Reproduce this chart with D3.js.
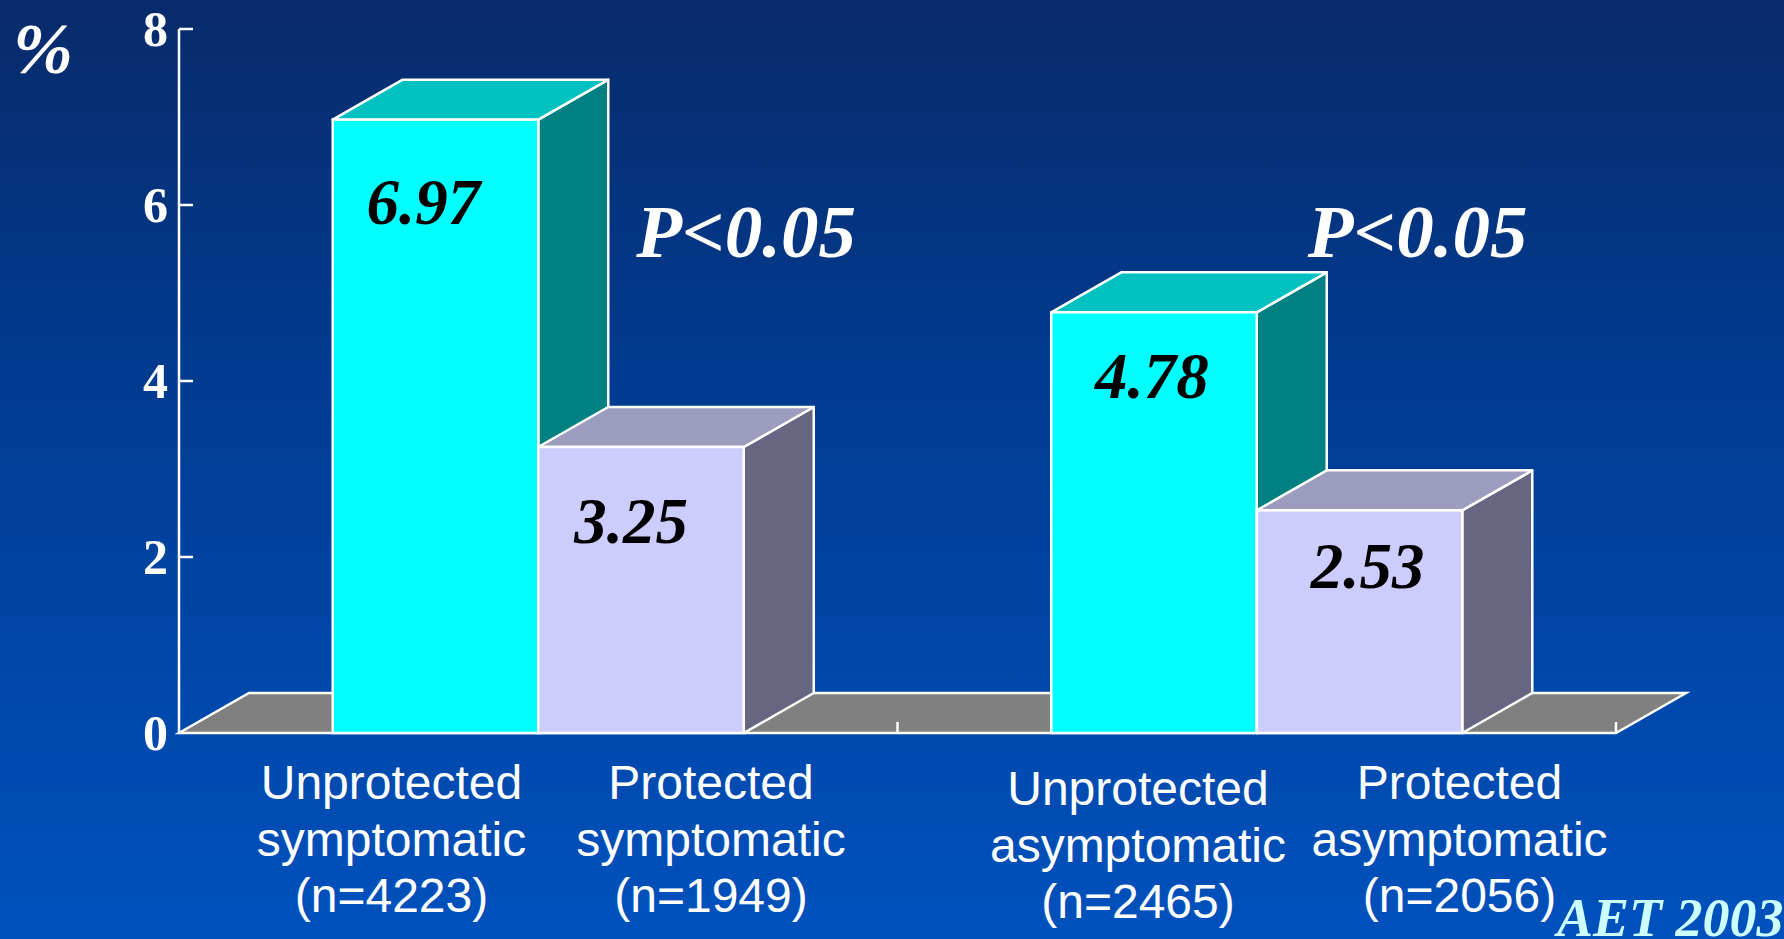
<!DOCTYPE html>
<html>
<head>
<meta charset="utf-8">
<script src="https://cdn.jsdelivr.net/npm/d3@7"></script>
<style>
  html, body { margin: 0; padding: 0; overflow: hidden; }
  svg { display: block; }
</style>
</head>
<body>
<svg id="chart" width="1784" height="939"></svg>
<script>
// Event rates (%) by protection status and symptom group
const groups = ["symptomatic", "asymptomatic"];
const protection = ["Unprotected", "Protected"];
const symptomaticValues = [6.97, 3.25];
const asymptomaticValues = [4.78, 2.53];
const sampleSizes = [4223, 1949, 2465, 2056];
const pValueLabels = ["P<0.05", "P<0.05"];
const yTicks = [0, 2, 4, 6, 8];

const W = 1784, H = 939;
const svg = d3.select("#chart");

// background gradient
const defs = svg.append("defs");
const grad = defs.append("linearGradient")
  .attr("id", "bg").attr("x1", 0).attr("y1", 0).attr("x2", 0).attr("y2", 1);
grad.append("stop").attr("offset", "0%").attr("stop-color", "#082b6b");
grad.append("stop").attr("offset", "50%").attr("stop-color", "#003f99");
grad.append("stop").attr("offset", "100%").attr("stop-color", "#0051bd");
svg.append("rect").attr("width", W).attr("height", H).attr("fill", "url(#bg)");

// rows: one per bar
const rows = [];
groups.forEach((g, gi) => {
  const vals = gi === 0 ? symptomaticValues : asymptomaticValues;
  protection.forEach((p, pi) => {
    rows.push({ group: g, prot: p, value: vals[pi], n: sampleSizes[gi * 2 + pi] });
  });
});

// scales
const y = d3.scaleLinear().domain([0, 8]).range([733, 29]);
const x0 = d3.scaleBand().domain(groups).range([179, 1616]).padding(0);
const x1 = d3.scaleBand().domain(protection).range([0, x0.bandwidth()])
  .paddingInner(0).paddingOuter(0.748);

// oblique depth of the 3D projection
const dx = 70, dy = -40;
const y0 = y(0);

const faceColors = {
  Unprotected: { front: "#00ffff", top: "#00c0c0", side: "#008080" },
  Protected:   { front: "#ccccff", top: "#9c9cbf", side: "#666682" }
};

// floor
const xStart = x0.range()[0], xEnd = x0.range()[1];
svg.append("polygon")
  .attr("points", [[xStart, y0], [xEnd, y0], [xEnd + dx, y0 + dy], [xStart + dx, y0 + dy]].join(" "))
  .attr("fill", "#808080").attr("stroke", "#ffffff").attr("stroke-width", 2.5)
  .attr("stroke-linejoin", "miter");

// group boundary ticks on the floor edge
svg.selectAll("line.xtick")
  .data(groups)
  .enter().append("line")
  .attr("class", "xtick")
  .attr("x1", d => x0(d) + x0.bandwidth()).attr("x2", d => x0(d) + x0.bandwidth())
  .attr("y1", y0).attr("y2", y0 - 11)
  .attr("stroke", "#ffffff").attr("stroke-width", 2.5);

// 3D bars, painted left to right
const bars = svg.append("g");
rows.forEach(d => {
  const bx = x0(d.group) + x1(d.prot);
  const bw = x1.bandwidth();
  const yv = y(d.value);
  const c = faceColors[d.prot];
  const g = bars.append("g");
  g.append("polygon")
    .attr("points", [[bx + bw, yv], [bx + bw + dx, yv + dy], [bx + bw + dx, y0 + dy], [bx + bw, y0]].join(" "))
    .attr("fill", c.side).attr("stroke", "#fff").attr("stroke-width", 2.5).attr("stroke-linejoin", "round");
  g.append("polygon")
    .attr("points", [[bx, yv], [bx + dx, yv + dy], [bx + bw + dx, yv + dy], [bx + bw, yv]].join(" "))
    .attr("fill", c.top).attr("stroke", "#fff").attr("stroke-width", 2.5).attr("stroke-linejoin", "round");
  g.append("rect")
    .attr("x", bx).attr("y", yv).attr("width", bw).attr("height", y0 - yv)
    .attr("fill", c.front).attr("stroke", "#fff").attr("stroke-width", 2.5);
});

// y axis
const yAxis = svg.append("g");
yAxis.append("line")
  .attr("x1", 179).attr("x2", 179).attr("y1", y(8)).attr("y2", y0)
  .attr("stroke", "#fff").attr("stroke-width", 2.5);
yAxis.selectAll("line.ytick")
  .data(yTicks.filter(t => t > 0))
  .enter().append("line")
  .attr("x1", 179).attr("x2", 193)
  .attr("y1", d => y(d)).attr("y2", d => y(d))
  .attr("stroke", "#fff").attr("stroke-width", 2.5);
yAxis.selectAll("text")
  .data(yTicks)
  .enter().append("text")
  .attr("x", 168).attr("y", d => y(d) + 17)
  .attr("text-anchor", "end")
  .attr("font-family", "'Liberation Serif', 'Times New Roman', serif")
  .attr("font-weight", "bold").attr("font-size", 50)
  .attr("fill", "#fff")
  .text(d => d);

svg.append("text")
  .attr("x", 13).attr("y", 73)
  .attr("font-family", "'Liberation Serif', 'Times New Roman', serif")
  .attr("font-weight", "bold").attr("font-style", "italic").attr("font-size", 72)
  .attr("fill", "#fff").text("%");

// value labels inside the bars
const valueNudge = [[-12, 104], [-10, 96], [-2, 86], [8, 78]];
svg.selectAll("text.val")
  .data(rows)
  .enter().append("text")
  .attr("class", "val")
  .attr("x", (d, i) => x0(d.group) + x1(d.prot) + x1.bandwidth() / 2 + valueNudge[i][0])
  .attr("y", (d, i) => y(d.value) + valueNudge[i][1])
  .attr("text-anchor", "middle")
  .attr("font-family", "'Liberation Serif', 'Times New Roman', serif")
  .attr("font-weight", "bold").attr("font-style", "italic").attr("font-size", 65)
  .attr("fill", "#000")
  .text(d => d.value.toFixed(2));

// significance labels
const pOffset = [98, 51];
svg.selectAll("text.pval")
  .data(groups)
  .enter().append("text")
  .attr("class", "pval")
  .attr("x", (d, i) => x0(d) + x1("Protected") + pOffset[i])
  .attr("y", 257)
  .attr("font-family", "'Liberation Serif', 'Times New Roman', serif")
  .attr("font-weight", "bold").attr("font-style", "italic").attr("font-size", 75)
  .attr("fill", "#fff")
  .text((d, i) => pValueLabels[i]);

// category labels below the floor
const catNudge = [[-44, 0], [70, 0], [-16, 6], [100, 0]];
const cats = svg.selectAll("text.cat")
  .data(rows)
  .enter().append("text")
  .attr("class", "cat")
  .attr("text-anchor", "middle")
  .attr("font-family", "'Liberation Sans', Arial, sans-serif")
  .attr("font-size", 48)
  .attr("fill", "#fff");
cats.each(function (d, i) {
  const cx = x0(d.group) + x1(d.prot) + x1.bandwidth() / 2 + catNudge[i][0];
  const by = 799 + catNudge[i][1];
  const lines = [d.prot, d.group, "(n=" + d.n + ")"];
  lines.forEach((t, li) => {
    d3.select(this).append("tspan").attr("x", cx).attr("y", by + li * 56.5).text(t);
  });
});

// source note
svg.append("text")
  .attr("x", 1557).attr("y", 936)
  .attr("font-family", "'Liberation Serif', 'Times New Roman', serif")
  .attr("font-weight", "bold").attr("font-style", "italic").attr("font-size", 54)
  .attr("fill", "#ccffff")
  .text("AET 2003");
</script>
</body>
</html>
